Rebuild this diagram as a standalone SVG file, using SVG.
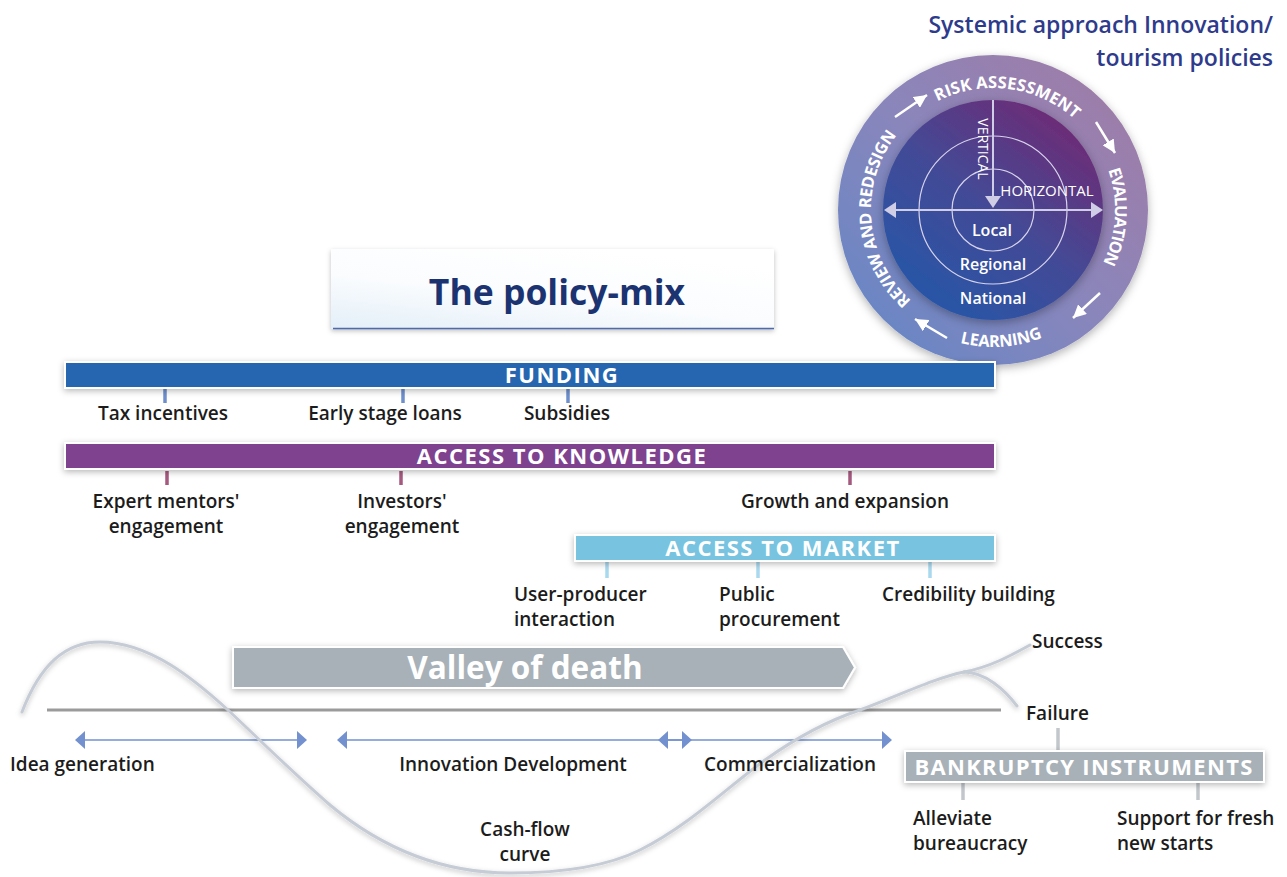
<svg xmlns="http://www.w3.org/2000/svg" xmlns:xlink="http://www.w3.org/1999/xlink" width="1287" height="877" viewBox="0 0 1287 877">
<defs>
<style>
.lbl{font-family:"Open Sans","Liberation Sans",sans-serif;font-size:19px;font-weight:600;fill:#1c1c1c;letter-spacing:0px}
.bar{font-family:"Open Sans","Liberation Sans",sans-serif;font-size:22px;font-weight:700;fill:#fff;letter-spacing:1.5px;text-anchor:middle}
.ring{font-family:"Open Sans","Liberation Sans",sans-serif;font-size:16.5px;font-weight:700;fill:#fff}
.inner{font-family:"Open Sans","Liberation Sans",sans-serif;fill:#fff;text-anchor:middle}
.mid{text-anchor:middle}
.tick{stroke-width:3.5}
.bararrow{stroke:#7391cf;stroke-width:1.6;fill:none}
.ra{stroke:#fff;stroke-width:2.5;marker-end:url(#wh)}
</style>
<filter id="sh" x="-10%" y="-30%" width="120%" height="170%">
<feDropShadow dx="0" dy="2" stdDeviation="3" flood-color="#000" flood-opacity="0.28"/>
</filter>
<filter id="shc" x="-20%" y="-20%" width="140%" height="140%">
<feDropShadow dx="0" dy="3" stdDeviation="5" flood-color="#000" flood-opacity="0.3"/>
</filter>
<filter id="shl" x="-5%" y="-10%" width="110%" height="130%">
<feDropShadow dx="0" dy="2" stdDeviation="2.5" flood-color="#000" flood-opacity="0.25"/>
</filter>
<linearGradient id="ringG" x1="1" y1="0" x2="0" y2="1">
<stop offset="0" stop-color="#a47aa3"/>
<stop offset="0.5" stop-color="#8a86bb"/>
<stop offset="1" stop-color="#5f86c8"/>
</linearGradient>
<linearGradient id="discG" x1="0.85" y1="0.1" x2="0.2" y2="0.95">
<stop offset="0" stop-color="#6e2b76"/>
<stop offset="0.5" stop-color="#434a96"/>
<stop offset="1" stop-color="#2656a8"/>
</linearGradient>
<linearGradient id="titleG" x1="0" y1="1" x2="0.6" y2="0">
<stop offset="0" stop-color="#e3eff8"/>
<stop offset="0.5" stop-color="#fafcfe"/>
<stop offset="1" stop-color="#ffffff"/>
</linearGradient>
<marker id="wh" viewBox="0 0 10 10" refX="10" refY="5" markerWidth="5.2" markerHeight="5.2" orient="auto" markerUnits="strokeWidth">
<path d="M0,0 L10,5 L0,10 z" fill="#fff"/>
</marker>
<path id="cw" d="M993,332 A122,122 0 1 1 993,88 A122,122 0 1 1 993,332"/>
<path id="ccw" d="M856,210 A137,137 0 0 0 1130,210"/>
</defs>

<rect width="1287" height="877" fill="#fff"/>

<g id="systemic-title">
<text x="1273" y="33" style="font-family:'Open Sans','Liberation Sans',sans-serif;font-size:23px;font-weight:600;fill:#2e3b8c;text-anchor:end">Systemic approach Innovation/</text>
<text x="1273" y="66" style="font-family:'Open Sans','Liberation Sans',sans-serif;font-size:23px;font-weight:600;fill:#2e3b8c;text-anchor:end">tourism policies</text>
</g>

<g id="cycle">
<circle cx="993" cy="210" r="155" fill="url(#ringG)" filter="url(#shc)"/>
<circle cx="993" cy="210" r="110" fill="url(#discG)" filter="url(#shc)"/>
<circle cx="993" cy="210" r="74" fill="none" stroke="#d8d4ec" stroke-width="1.2"/>
<circle cx="993" cy="210" r="41" fill="none" stroke="#d8d4ec" stroke-width="1.2"/>
<line x1="895" y1="210" x2="1092" y2="210" stroke="#d0cde6" stroke-width="2"/>
<path d="M884,210 L896,202 L896,218 z" fill="#d0cde6"/>
<path d="M1103,210 L1091,202 L1091,218 z" fill="#d0cde6"/>
<line x1="993" y1="100" x2="993" y2="198" stroke="#d0cde6" stroke-width="2"/>
<path d="M993,208 L985,196 L1001,196 z" fill="#d0cde6"/>
<text class="inner" transform="translate(978,149) rotate(90)" style="font-size:14px">VERTICAL</text>
<text class="inner" x="1047" y="196" style="font-size:15px">HORIZONTAL</text>
<text class="inner" x="992" y="236" style="font-size:16px;font-weight:600">Local</text>
<text class="inner" x="993" y="270" style="font-size:16px;font-weight:600">Regional</text>
<text class="inner" x="993" y="304" style="font-size:16px;font-weight:600">National</text>
<text class="ring"><textPath xlink:href="#cw" href="#cw" startOffset="23.6%" text-anchor="middle" textLength="183" lengthAdjust="spacing">REVIEW AND REDESIGN</textPath></text>
<text class="ring"><textPath xlink:href="#cw" href="#cw" startOffset="52.06%" text-anchor="middle" textLength="147" lengthAdjust="spacing">RISK ASSESSMENT</textPath></text>
<text class="ring"><textPath xlink:href="#cw" href="#cw" startOffset="75.9%" text-anchor="middle" textLength="96" lengthAdjust="spacing">EVALUATION</textPath></text>
<text class="ring"><textPath xlink:href="#ccw" href="#ccw" startOffset="52%" text-anchor="middle" textLength="84" lengthAdjust="spacing">LEARNING</textPath></text>
<line class="ra" x1="895" y1="117" x2="927" y2="95"/>
<line class="ra" x1="1096" y1="122" x2="1115" y2="153"/>
<line class="ra" x1="1100" y1="293" x2="1073" y2="318"/>
<line class="ra" x1="947" y1="338" x2="915" y2="319"/>
</g>

<g id="policy-mix-title">
<rect x="331" y="249" width="443" height="80" fill="url(#titleG)" filter="url(#shl)"/>
<line x1="333" y1="328.5" x2="774" y2="328.5" stroke="#4d6aae" stroke-width="1.5"/>
<text x="557" y="305" style="font-family:'Open Sans','Liberation Sans',sans-serif;font-size:35.5px;font-weight:700;fill:#1c3371;text-anchor:middle">The policy-mix</text>
</g>

<g id="connectors">
<g stroke="#6f8fcc" class="tick">
<line x1="165" y1="389" x2="165" y2="403"/>
<line x1="403" y1="389" x2="403" y2="403"/>
<line x1="568" y1="389" x2="568" y2="403"/>
</g>
<g stroke="#a5597f" class="tick">
<line x1="167" y1="471" x2="167" y2="485"/>
<line x1="401" y1="471" x2="401" y2="485"/>
<line x1="850" y1="471" x2="850" y2="485"/>
</g>
<g stroke="#a9d9ee" class="tick">
<line x1="607" y1="562" x2="607" y2="578"/>
<line x1="758" y1="562" x2="758" y2="578"/>
<line x1="930" y1="562" x2="930" y2="578"/>
</g>
<g stroke="#c2c7cc" class="tick">
<line x1="1058" y1="728" x2="1058" y2="750"/>
<line x1="963" y1="783" x2="963" y2="800"/>
<line x1="1198" y1="783" x2="1198" y2="800"/>
</g>
<line x1="47" y1="710" x2="1001" y2="710" stroke="#9b9b9b" stroke-width="3"/>
<g fill="#7391cf">
<line class="bararrow" x1="80" y1="740" x2="302" y2="740"/>
<path d="M75,740 L85,731 L85,749 z"/>
<path d="M307,740 L297,731 L297,749 z"/>
<line class="bararrow" x1="342" y1="740" x2="687" y2="740"/>
<path d="M337,740 L347,731 L347,749 z"/>
<path d="M692,740 L682,731 L682,749 z"/>
<line class="bararrow" x1="663" y1="740" x2="887" y2="740"/>
<path d="M658,740 L668,731 L668,749 z"/>
<path d="M892,740 L882,731 L882,749 z"/>
</g>
</g>

<g id="cash-flow-curve" fill="none" stroke="#c6ccd5" stroke-width="3" stroke-linecap="round" filter="url(#shl)">
<path d="M22,712 C40,665 65,642 100,642 C150,642 195,680 228,710 C260,740 290,770 330,805 C390,855 450,873 510,873 C570,873 610,865 640,850 C690,825 730,785 765,760 C800,735 830,720 860,710 C900,695 935,678 964,672"/>
<path d="M964,672 C990,667 1010,656 1030,645"/>
<path d="M964,672 C985,672 1005,690 1017,706"/>
</g>

<g id="funding">
<rect x="65" y="362" width="930" height="26" fill="#2566b0" stroke="#fff" stroke-width="2" filter="url(#sh)"/>
<text class="bar" x="562" y="383">FUNDING</text>
<text class="lbl mid" x="163" y="420">Tax incentives</text>
<text class="lbl mid" x="385" y="420">Early stage loans</text>
<text class="lbl mid" x="567" y="420">Subsidies</text>
</g>

<g id="access-to-knowledge">
<rect x="65" y="443" width="930" height="26" fill="#7e428f" stroke="#fff" stroke-width="2" filter="url(#sh)"/>
<text class="bar" x="562" y="464">ACCESS TO KNOWLEDGE</text>
<text class="lbl mid" x="166" y="508">Expert mentors'</text>
<text class="lbl mid" x="166" y="533">engagement</text>
<text class="lbl mid" x="402" y="508">Investors'</text>
<text class="lbl mid" x="402" y="533">engagement</text>
<text class="lbl mid" x="845" y="508">Growth and expansion</text>
</g>

<g id="access-to-market">
<rect x="575" y="535" width="420" height="26" fill="#77c3e0" stroke="#fff" stroke-width="2" filter="url(#sh)"/>
<text class="bar" x="783" y="556">ACCESS TO MARKET</text>
<text class="lbl" x="514" y="601">User-producer</text>
<text class="lbl" x="514" y="626">interaction</text>
<text class="lbl" x="719" y="601">Public</text>
<text class="lbl" x="719" y="626">procurement</text>
<text class="lbl" x="882" y="601">Credibility building</text>
</g>

<g id="valley-of-death">
<path d="M233,647 L843,647 L855,667.5 L843,688 L233,688 z" fill="#a8b1b7" stroke="#fff" stroke-width="2" filter="url(#sh)"/>
<text x="525" y="679" style="font-family:'Open Sans','Liberation Sans',sans-serif;font-size:31.5px;font-weight:700;fill:#fff;text-anchor:middle">Valley of death</text>
</g>

<g id="phases">
<text class="lbl" x="10" y="771">Idea generation</text>
<text class="lbl mid" x="513" y="771">Innovation Development</text>
<text class="lbl mid" x="790" y="771">Commercialization</text>
<text class="lbl mid" x="525" y="836">Cash-flow</text>
<text class="lbl mid" x="525" y="861">curve</text>
</g>

<g id="outcomes">
<text class="lbl" x="1032" y="648">Success</text>
<text class="lbl" x="1026" y="720">Failure</text>
</g>

<g id="bankruptcy-instruments">
<rect x="905" y="751" width="359" height="31" fill="#a8b1b8" stroke="#fff" stroke-width="2" filter="url(#sh)"/>
<text class="bar" x="1084" y="775" style="letter-spacing:1.3px">BANKRUPTCY INSTRUMENTS</text>
<text class="lbl" x="913" y="825">Alleviate</text>
<text class="lbl" x="913" y="850">bureaucracy</text>
<text class="lbl" x="1117" y="825">Support for fresh</text>
<text class="lbl" x="1117" y="850">new starts</text>
</g>
</svg>
